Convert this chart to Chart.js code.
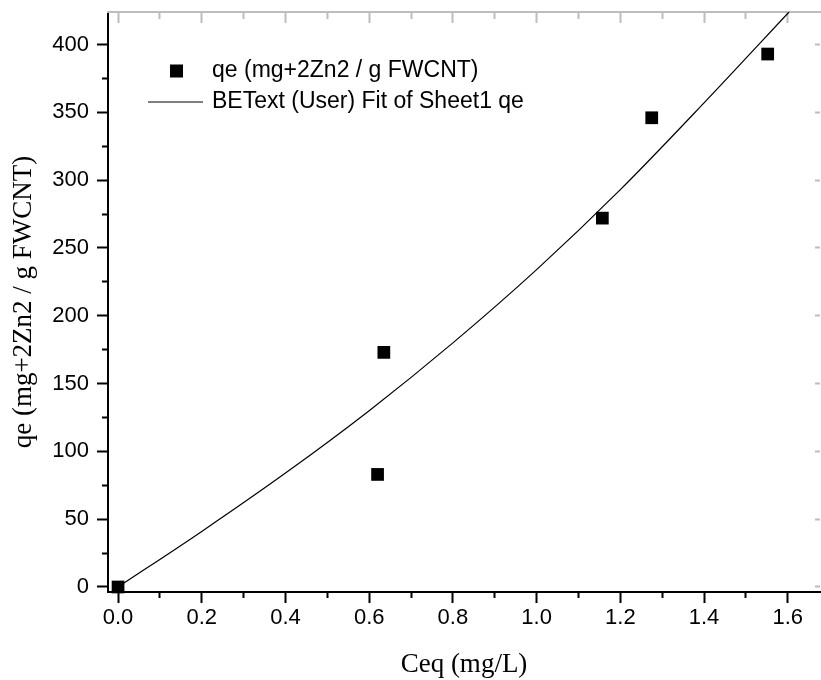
<!DOCTYPE html>
<html>
<head>
<meta charset="utf-8">
<script src="https://cdn.jsdelivr.net/npm/chart.js@4/dist/chart.umd.min.js"></script>
<style>
  html, body { margin: 0; padding: 0; background: #fff; }
</style>
</head>
<body>
<canvas id="qeChart" width="821" height="680"></canvas>
<script>
// measured points
const ceqValues = [0, 0.62, 0.635, 1.157, 1.275, 1.552];
const qeValues = [0, 83, 173, 272, 346, 393];

// BET ext fit curve
const fitCeq = [0, 0.2, 0.4, 0.6, 0.8, 1.0, 1.2, 1.4, 1.603];
const fitQe = [0, 41, 84, 130, 180, 234, 293, 357, 424];

// axis ticks
const xMajorTicks = [0, 0.2, 0.4, 0.6, 0.8, 1.0, 1.2, 1.4, 1.6];
const xMinorTicks = [0.1, 0.3, 0.5, 0.7, 0.9, 1.1, 1.3, 1.5];
const yMajorTicks = [0, 50, 100, 150, 200, 250, 300, 350, 400];
const yMinorTicks = [25, 75, 125, 175, 225, 275, 325, 375];

const pointLabel = 'qe (mg+2Zn2 / g FWCNT)';
const fitLabel = 'BEText (User) Fit of Sheet1 qe';
const xTitle = 'Ceq (mg/L)';
const yTitle = 'qe (mg+2Zn2 / g FWCNT)';

const X_MIN = -0.024, X_MAX = 1.677;
const Y_MIN = -3.7, Y_MAX = 424;

const GRAY = '#bdbdbd';
const sans = 'Liberation Sans, Arial, sans-serif';
const serif = 'Liberation Serif, Times New Roman, serif';

function setTicks(values) {
    return axis => { axis.ticks = values.map(v => ({ value: v })); };
}

function noPad(s) {
    s.paddingTop = 0; s.paddingBottom = 0; s.paddingLeft = 0; s.paddingRight = 0;
}

// extra axis that only draws tick marks (minor ticks, top/right frame)
function markAxis(position, values, len, color, showBorder) {
    const horiz = position === 'top' || position === 'bottom';
    return {
        type: 'linear',
        position: position,
        min: horiz ? X_MIN : Y_MIN,
        max: horiz ? X_MAX : Y_MAX,
        weight: 0,
        afterBuildTicks: setTicks(values),
        afterFit: s => { if (horiz) s.height = 0; else s.width = 0; noPad(s); },
        ticks: { display: false },
        grid: { drawOnChartArea: false, tickLength: len, tickColor: color, tickWidth: 2 },
        border: { display: showBorder, color: color, width: 2 }
    };
}

const legendInside = {
    id: 'legendInside',
    afterDraw(chart) {
        const ctx = chart.ctx;
        const a = chart.chartArea;
        ctx.save();
        ctx.fillStyle = '#000';
        ctx.fillRect(a.left + 62, a.top + 52.5, 13, 13);
        ctx.strokeStyle = '#000';
        ctx.lineWidth = 1.2;
        ctx.beginPath();
        ctx.moveTo(a.left + 40, a.top + 90);
        ctx.lineTo(a.left + 95, a.top + 90);
        ctx.stroke();
        ctx.font = '23px ' + sans;
        ctx.textBaseline = 'middle';
        ctx.fillText(pointLabel, a.left + 104, a.top + 59);
        ctx.fillText(fitLabel, a.left + 104, a.top + 90);
        ctx.restore();
    }
};

const ctx = document.getElementById('qeChart').getContext('2d');

const qeChart = new Chart(ctx, {
    type: 'scatter',
    data: {
        datasets: [
            {
                label: pointLabel,
                data: ceqValues.map((c, i) => ({ x: c, y: qeValues[i] })),
                pointStyle: 'rect',
                pointRadius: 9,
                backgroundColor: '#000',
                borderColor: '#000',
                borderWidth: 0,
                clip: false,
                order: 0
            },
            {
                label: fitLabel,
                type: 'line',
                data: fitCeq.map((c, i) => ({ x: c, y: fitQe[i] })),
                borderColor: '#000',
                borderWidth: 1.2,
                pointRadius: 0,
                fill: false,
                cubicInterpolationMode: 'monotone',
                order: 1
            }
        ]
    },
    options: {
        responsive: false,
        animation: false,
        devicePixelRatio: 1,
        layout: { autoPadding: false, padding: { top: 12, right: 1, left: 0, bottom: 0 } },
        plugins: {
            legend: { display: false },
            tooltip: { enabled: false }
        },
        scales: {
            x: {
                type: 'linear',
                position: 'bottom',
                min: X_MIN,
                max: X_MAX,
                weight: 1,
                afterBuildTicks: setTicks(xMajorTicks),
                afterFit: s => { s.height = 88; noPad(s); },
                ticks: {
                    color: '#000',
                    font: { family: sans, size: 22 },
                    padding: 2,
                    maxRotation: 0,
                    callback: v => v.toFixed(1)
                },
                grid: { drawOnChartArea: false, tickLength: 11, tickColor: '#000', tickWidth: 2 },
                border: { color: '#000', width: 2 },
                title: {
                    display: true,
                    text: xTitle,
                    color: '#000',
                    font: { family: serif, size: 27, lineHeight: 1 },
                    padding: { top: 0, bottom: 2 }
                }
            },
            xMinor: markAxis('bottom', xMinorTicks, 6, '#000', false),
            y: {
                type: 'linear',
                position: 'left',
                min: Y_MIN,
                max: Y_MAX,
                weight: 1,
                afterBuildTicks: setTicks(yMajorTicks),
                afterFit: s => { s.width = 108; noPad(s); },
                ticks: {
                    color: '#000',
                    font: { family: sans, size: 22 },
                    padding: 8,
                    callback: v => String(v)
                },
                grid: { drawOnChartArea: false, tickLength: 11, tickColor: '#000', tickWidth: 2 },
                border: { color: '#000', width: 2 },
                title: {
                    display: true,
                    text: yTitle,
                    color: '#000',
                    font: { family: serif, size: 27, lineHeight: 1 },
                    padding: { top: 10, bottom: 0 }
                }
            },
            yMinor: markAxis('left', yMinorTicks, 6, '#000', false),
            xTop: markAxis('top', xMajorTicks, -11, GRAY, true),
            xTopMinor: markAxis('top', xMinorTicks, -7, GRAY, false),
            yRight: markAxis('right', yMajorTicks, -5, GRAY, false)
        }
    },
    plugins: [legendInside]
});
</script>
</body>
</html>
